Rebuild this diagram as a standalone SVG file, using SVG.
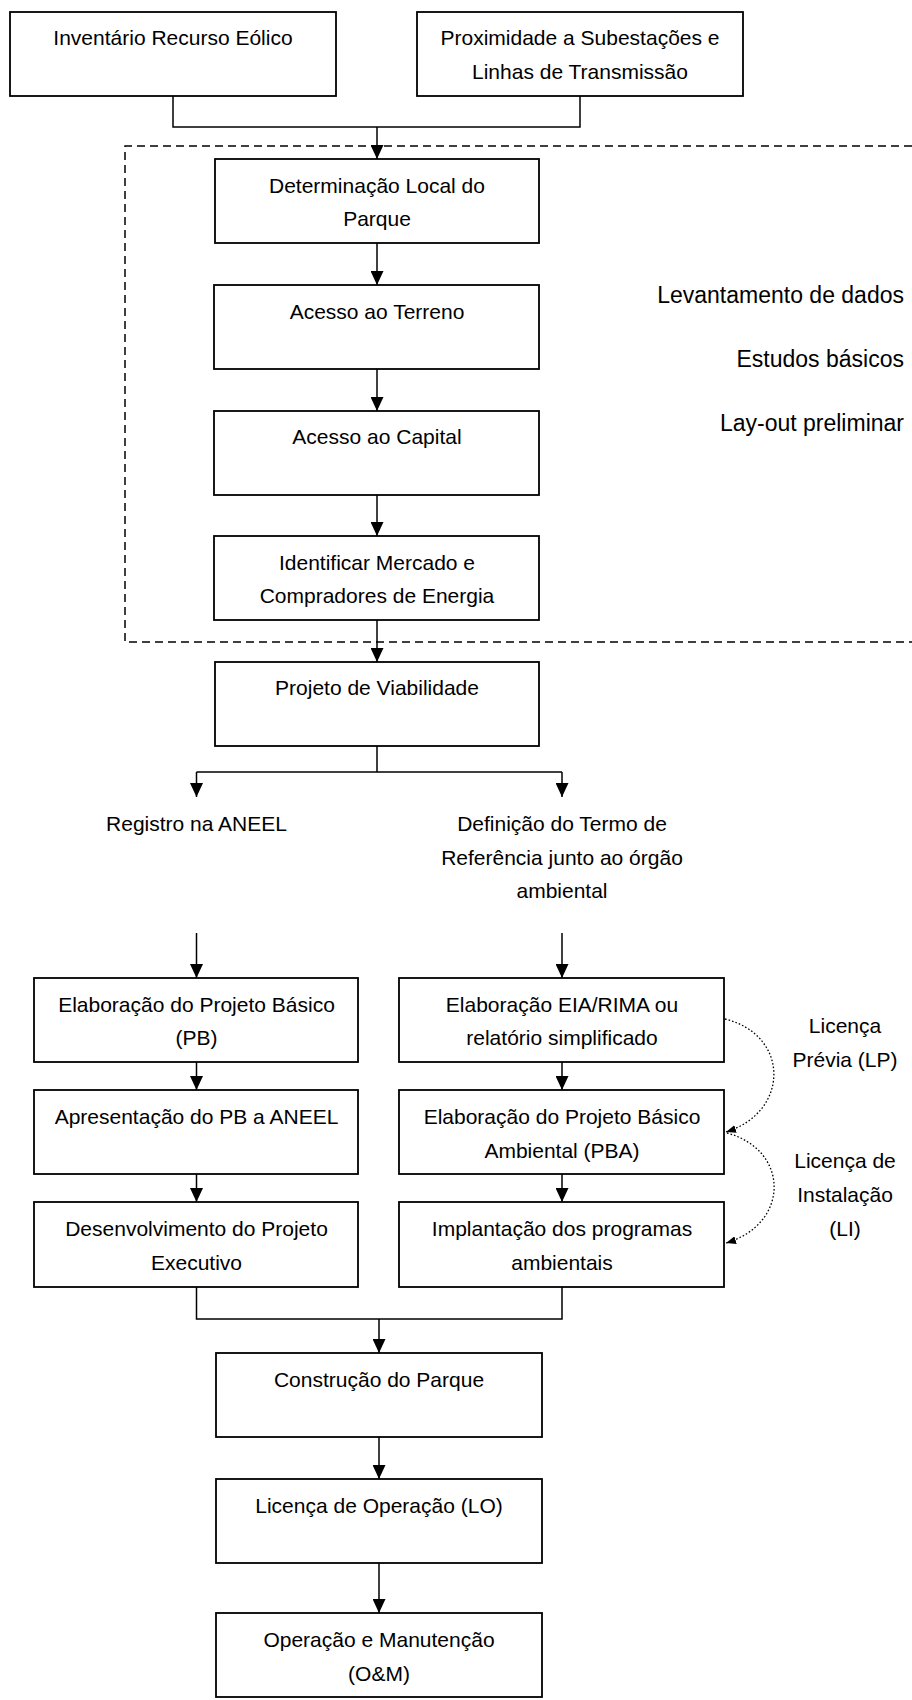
<svg xmlns="http://www.w3.org/2000/svg" width="912" height="1700" viewBox="0 0 912 1700">
<style>
.box{fill:#fff;stroke:#000;stroke-width:1.8}
.t{font-family:"Liberation Sans",Arial,sans-serif;font-size:21px;fill:#000;text-anchor:middle}
.big{font-family:"Liberation Sans",Arial,sans-serif;font-size:23px;fill:#000;text-anchor:end}
.c{fill:none;stroke:#000;stroke-width:1.5}
.dot{fill:none;stroke:#000;stroke-width:1.3;stroke-dasharray:1.6 2}
</style>
<defs>
<marker id="ah" markerUnits="userSpaceOnUse" markerWidth="14" markerHeight="13" refX="14" refY="6.5" orient="auto">
<path d="M0,0 L14,6.5 L0,13 z" fill="#000"/>
</marker>
<marker id="ahs" markerUnits="userSpaceOnUse" markerWidth="10" markerHeight="8" refX="10" refY="4" orient="auto">
<path d="M0,0 L10,4 L0,8 z" fill="#000"/>
</marker>
</defs>
<rect width="912" height="1700" fill="#fff"/>

<g id="connectors">
<path class="c" fill="none" stroke="#000" stroke-width="1.5" stroke-dasharray="8 5" d="M912,146 H125 V642 H912"/>
<path class="c" d="M173,96 V127 H580 V96"/>
<path class="c" d="M377,127 V159" marker-end="url(#ah)"/>
<path class="c" d="M377,243 V285" marker-end="url(#ah)"/>
<path class="c" d="M377,369 V411" marker-end="url(#ah)"/>
<path class="c" d="M377,495 V536" marker-end="url(#ah)"/>
<path class="c" d="M377,620 V662" marker-end="url(#ah)"/>
<path class="c" d="M377,746 V772 M196.5,772 H562"/>
<path class="c" d="M196.5,772 V797" marker-end="url(#ah)"/>
<path class="c" d="M562,772 V797" marker-end="url(#ah)"/>
<path class="c" d="M196.5,933 V978" marker-end="url(#ah)"/>
<path class="c" d="M562,933 V978" marker-end="url(#ah)"/>
<path class="c" d="M196.5,1062 V1090" marker-end="url(#ah)"/>
<path class="c" d="M562,1062 V1090" marker-end="url(#ah)"/>
<path class="c" d="M196.5,1174 V1202" marker-end="url(#ah)"/>
<path class="c" d="M562,1174 V1202" marker-end="url(#ah)"/>
<path class="c" d="M196.5,1287 V1319 H562 V1287"/>
<path class="c" d="M379,1319 V1353" marker-end="url(#ah)"/>
<path class="c" d="M379,1437 V1479" marker-end="url(#ah)"/>
<path class="c" d="M379,1563 V1613" marker-end="url(#ah)"/>
<path class="dot" d="M725,1019 C790,1035 790,1112 726,1132" marker-end="url(#ahs)"/>
<path class="dot" d="M727,1133 C790,1150 790,1224 726,1243" marker-end="url(#ahs)"/>
</g>

<g id="inventario">
<rect class="box" x="10" y="12" width="326" height="84"/>
<text class="t" x="173" y="45">Inventário Recurso Eólico</text>
</g>
<g id="proximidade">
<rect class="box" x="417" y="12" width="326" height="84"/>
<text class="t" x="580" y="45">Proximidade a Subestações e</text>
<text class="t" x="580" y="79">Linhas de Transmissão</text>
</g>
<g id="determinacao">
<rect class="box" x="215" y="159" width="324" height="84"/>
<text class="t" x="377" y="193">Determinação Local do</text>
<text class="t" x="377" y="226">Parque</text>
</g>
<g id="terreno">
<rect class="box" x="214" y="285" width="325" height="84"/>
<text class="t" x="377" y="319">Acesso ao Terreno</text>
</g>
<g id="capital">
<rect class="box" x="214" y="411" width="325" height="84"/>
<text class="t" x="377" y="444">Acesso ao Capital</text>
</g>
<g id="mercado">
<rect class="box" x="214" y="536" width="325" height="84"/>
<text class="t" x="377" y="570">Identificar Mercado e</text>
<text class="t" x="377" y="603">Compradores de Energia</text>
</g>
<g id="notes">
<text class="big" x="904" y="303">Levantamento de dados</text>
<text class="big" x="904" y="367">Estudos básicos</text>
<text class="big" x="904" y="431">Lay-out preliminar</text>
</g>
<g id="viabilidade">
<rect class="box" x="215" y="662" width="324" height="84"/>
<text class="t" x="377" y="695">Projeto de Viabilidade</text>
</g>
<g id="registro">
<text class="t" x="196.5" y="831">Registro na ANEEL</text>
</g>
<g id="termo">
<text class="t" x="562" y="831">Definição do Termo de</text>
<text class="t" x="562" y="865">Referência junto ao órgão</text>
<text class="t" x="562" y="898">ambiental</text>
</g>
<g id="pb">
<rect class="box" x="34" y="978" width="324" height="84"/>
<text class="t" x="196.5" y="1012">Elaboração do Projeto Básico</text>
<text class="t" x="196.5" y="1045">(PB)</text>
</g>
<g id="eia">
<rect class="box" x="399" y="978" width="325" height="84"/>
<text class="t" x="562" y="1012">Elaboração EIA/RIMA ou</text>
<text class="t" x="562" y="1045">relatório simplificado</text>
</g>
<g id="apresentacao">
<rect class="box" x="34" y="1090" width="324" height="84"/>
<text class="t" x="196.5" y="1124">Apresentação do PB a ANEEL</text>
</g>
<g id="pba">
<rect class="box" x="399" y="1090" width="325" height="84"/>
<text class="t" x="562" y="1124">Elaboração do Projeto Básico</text>
<text class="t" x="562" y="1158">Ambiental (PBA)</text>
</g>
<g id="executivo">
<rect class="box" x="34" y="1202" width="324" height="85"/>
<text class="t" x="196.5" y="1236">Desenvolvimento do Projeto</text>
<text class="t" x="196.5" y="1270">Executivo</text>
</g>
<g id="programas">
<rect class="box" x="399" y="1202" width="325" height="85"/>
<text class="t" x="562" y="1236">Implantação dos programas</text>
<text class="t" x="562" y="1270">ambientais</text>
</g>
<g id="lp">
<text class="t" x="845" y="1033">Licença</text>
<text class="t" x="845" y="1067">Prévia (LP)</text>
</g>
<g id="li">
<text class="t" x="845" y="1168">Licença de</text>
<text class="t" x="845" y="1202">Instalação</text>
<text class="t" x="845" y="1236">(LI)</text>
</g>
<g id="construcao">
<rect class="box" x="216" y="1353" width="326" height="84"/>
<text class="t" x="379" y="1387">Construção do Parque</text>
</g>
<g id="lo">
<rect class="box" x="216" y="1479" width="326" height="84"/>
<text class="t" x="379" y="1513">Licença de Operação (LO)</text>
</g>
<g id="om">
<rect class="box" x="216" y="1613" width="326" height="84"/>
<text class="t" x="379" y="1647">Operação e Manutenção</text>
<text class="t" x="379" y="1681">(O&amp;M)</text>
</g>
</svg>
